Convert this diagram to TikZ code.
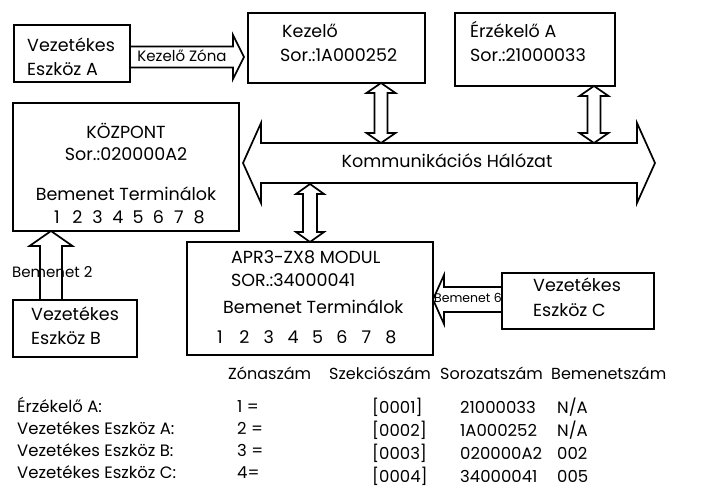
\documentclass[tikz,border=0pt]{standalone}
\usepackage{fontspec}
\setmainfont{Poppins}
\usetikzlibrary{calc}
\newcommand{\HArrow}[5]{% tail, tip, shaft half, head half, signed head length
  \draw[blk] let \p1=(#1), \p2=(#2) in
   (\x1,\y1+#3) -- ({\x2-(#5)},\y1+#3) -- ({\x2-(#5)},\y1+#4) -- (\x2,\y1)
   -- ({\x2-(#5)},\y1-#4) -- ({\x2-(#5)},\y1-#3) -- (\x1,\y1-#3);}
\newcommand{\VArrow}[5]{% tail, tip, shaft half, head half, signed head length (+ = up)
  \draw[blk] let \p1=(#1), \p2=(#2) in
   (\x1-#3,\y1) -- (\x1-#3,{\y2-(#5)}) -- (\x1-#4,{\y2-(#5)}) -- (\x1,\y2)
   -- (\x1+#4,{\y2-(#5)}) -- (\x1+#3,{\y2-(#5)}) -- (\x1+#3,\y1);}
\newcommand{\VDArrow}[5]{% top, bottom, shaft half, head half, head length
  \draw[blk] let \p1=(#1), \p2=(#2) in
   (\x1,\y1) -- (\x1+#4,\y1-#5) -- (\x1+#3,\y1-#5) -- (\x1+#3,\y2+#5) -- (\x1+#4,\y2+#5)
   -- (\x1,\y2) -- (\x1-#4,\y2+#5) -- (\x1-#3,\y2+#5) -- (\x1-#3,\y1-#5) -- (\x1-#4,\y1-#5) -- cycle;}
\newcommand{\HDArrow}[5]{% left, right, shaft half, head half, head length
  \draw[blk] let \p1=(#1), \p2=(#2) in
   (\x1,\y1) -- (\x1+#5,\y1+#4) -- (\x1+#5,\y1+#3) -- (\x2-#5,\y1+#3) -- (\x2-#5,\y1+#4)
   -- (\x2,\y1) -- (\x2-#5,\y1-#4) -- (\x2-#5,\y1-#3) -- (\x1+#5,\y1-#3) -- (\x1+#5,\y1-#4) -- cycle;}
\begin{document}
\begin{tikzpicture}[x=1pt,y=-1pt,
  box/.style={draw, line width=1.7pt, inner sep=0pt, outer sep=0pt},
  blk/.style={draw, line width=1.7pt, line join=miter},
  txt/.style={inner sep=0pt, font=\fontsize{17.5}{20}\selectfont},
  tbl/.style={inner sep=0pt, font=\fontsize{16.5}{20}\selectfont},
  hdr/.style={inner sep=0pt, font=\fontsize{16}{20}\selectfont},
  sml/.style={inner sep=0pt, font=\fontsize{15}{17}\selectfont},
  tiny/.style={inner sep=0pt, font=\fontsize{12.5}{14}\selectfont}]
\useasboundingbox (0,0) rectangle (704,492);
% boxes
\node[box, minimum width=116pt, minimum height=57pt] (vezA) at (72,53.5) {};
\node[box, minimum width=177pt, minimum height=70pt] (kezelo) at (336.5,48) {};
\node[box, minimum width=160pt, minimum height=73pt] (erz) at (535,49.5) {};
\node[box, minimum width=226pt, minimum height=128pt] (kozpont) at (126,167) {};
\node[box, minimum width=246pt, minimum height=113pt] (apr) at (310,298.5) {};
\node[box, minimum width=124pt, minimum height=57pt] (vezB) at (75,328.5) {};
\node[box, minimum width=152pt, minimum height=56pt] (vezC) at (578,301) {};
% box texts
\node[txt, anchor=mid west] (vezA1) at (27,49) {Vezetékes};
\node[txt, anchor=mid west] (vezA2) at (27,73) {Eszköz A};
\node[txt, anchor=mid west] (kez1) at (282,35) {Kezelő};
\node[txt, anchor=mid west] (kez2) at (280,59) {Sor.:1A000252};
\node[txt, anchor=mid west] (erz1) at (470,35) {Érzékelő A};
\node[txt, anchor=mid west] (erz2) at (470,59) {Sor.:21000033};
\node[txt, anchor=mid] (koz1) at (126,136) {KÖZPONT};
\node[txt, anchor=mid] (koz2) at (126,158) {Sor.:020000A2};
\node[txt, anchor=mid] (koz3) at (126,198) {Bemenet Terminálok};
\foreach \i in {1,...,8} \node[txt, anchor=mid] (kozd\i) at ({57+20.3*(\i-1)},221) {\i};
\node[txt, anchor=mid west] (apr1) at (231,261) {APR3-ZX8 MODUL};
\node[txt, anchor=mid west] (apr2) at (231,284) {SOR.:34000041};
\node[txt, anchor=mid west] (apr3) at (223,311) {Bemenet Terminálok};
\foreach \i in {1,...,8} \node[txt, anchor=mid] (aprd\i) at ({220+24.4*(\i-1)},341) {\i};
\node[txt, anchor=mid west] (vezB1) at (31,318) {Vezetékes};
\node[txt, anchor=mid west] (vezB2) at (31,342) {Eszköz B};
\node[txt, anchor=mid west] (vezC1) at (533,289) {Vezetékes};
\node[txt, anchor=mid west] (vezC2) at (533,314) {Eszköz C};
% network arrow
\coordinate (netL) at (243,163);
\coordinate (netR) at (655,163);
\HDArrow{netL}{netR}{20pt}{40pt}{18pt}
\node[txt, anchor=mid] (net) at (447,165) {Kommunikációs Hálózat};
% vertical double arrows
\coordinate (k1) at (381,143);
\coordinate (kTop) at (kezelo.south -| k1);
\VDArrow{kTop}{k1}{6.5pt}{14.5pt}{10pt}
\coordinate (e1) at (594,143);
\coordinate (eTop) at (erz.south -| e1);
\VDArrow{eTop}{e1}{6.5pt}{14.5pt}{10pt}
\coordinate (a1) at (310,184);
\coordinate (aBot) at (apr.north -| a1);
\VDArrow{a1}{aBot}{7pt}{14pt}{10pt}
% single block arrows
\coordinate (kzT) at (vezA.east |- 0,57);
\coordinate (kzH) at (244,57);
\HArrow{kzT}{kzH}{10.5pt}{22pt}{11pt}
\node[sml, anchor=mid] (kzlab) at (182,59) {Kezelő Zóna};
\coordinate (b2T) at (51,300);
\coordinate (b2H) at (kozpont.south -| b2T);
\node[sml, anchor=mid west] (b2lab) at (12,275) {Bemenet 2};
\VArrow{b2T}{b2H}{11pt}{21.5pt}{15pt}
\coordinate (b6T) at (vezC.west |- 0,299.5);
\coordinate (b6H) at (apr.east |- b6T);
\node[tiny, anchor=mid west] (b6lab) at (434,300) {Bemenet 6};
\HArrow{b6T}{b6H}{12.5pt}{24.5pt}{-11pt}
% table
\node[hdr, anchor=mid west] (h1) at (228,377) {Zónaszám};
\node[hdr, anchor=mid west] (h2) at (329,377) {Szekciószám};
\node[hdr, anchor=mid west] (h3) at (440,377) {Sorozatszám};
\node[hdr, anchor=mid west] (h4) at (551,377) {Bemenetszám};
\node[tbl, anchor=mid west] (r1a) at (17,410) {Érzékelő A:};
\node[tbl, anchor=mid west] (r2a) at (17,432) {Vezetékes Eszköz A:};
\node[tbl, anchor=mid west] (r3a) at (17,454) {Vezetékes Eszköz B:};
\node[tbl, anchor=mid west] (r4a) at (17,476) {Vezetékes Eszköz C:};
\node[tbl, anchor=mid west] (r1b) at (237,410) {1 =};
\node[tbl, anchor=mid west] (r2b) at (237,432) {2 =};
\node[tbl, anchor=mid west] (r3b) at (237,454) {3 =};
\node[tbl, anchor=mid west] (r4b) at (237,476) {4=};
\node[tbl, anchor=mid west] (r1c) at (372,411) {[0001]};
\node[tbl, anchor=mid west] (r2c) at (372,434) {[0002]};
\node[tbl, anchor=mid west] (r3c) at (372,457) {[0003]};
\node[tbl, anchor=mid west] (r4c) at (372,480) {[0004]};
\node[tbl, anchor=mid west] (r1d) at (460,411) {21000033};
\node[tbl, anchor=mid west] (r2d) at (460,434) {1A000252};
\node[tbl, anchor=mid west] (r3d) at (460,457) {020000A2};
\node[tbl, anchor=mid west] (r4d) at (460,480) {34000041};
\node[tbl, anchor=mid west] (r1e) at (557,411) {N/A};
\node[tbl, anchor=mid west] (r2e) at (557,434) {N/A};
\node[tbl, anchor=mid west] (r3e) at (557,457) {002};
\node[tbl, anchor=mid west] (r4e) at (557,480) {005};
\end{tikzpicture}
\end{document}
